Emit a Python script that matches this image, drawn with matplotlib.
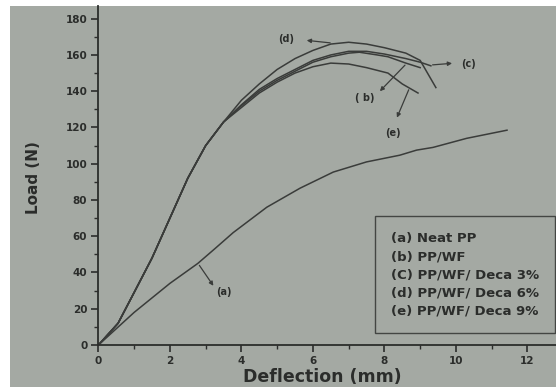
import matplotlib
matplotlib.use("Agg")
import matplotlib.pyplot as plt
from matplotlib.ticker import MultipleLocator
from matplotlib.patches import Rectangle

# Load-deflection curves
x_a = [0, 1.0, 2.0, 2.78, 3.25, 3.77, 4.71, 5.64, 6.57, 7.5, 8.43, 8.9, 9.36, 10.3, 11.43]
y_a = [0, 18, 34, 45, 53, 62, 76, 86.5, 95.4, 101, 104.7, 107.5, 109, 114, 118.5]

x_b = [0, 0.55, 1.0, 1.5, 2.0, 2.5, 3.0, 3.5, 4.0, 4.5, 5.0, 5.5, 6.0, 6.5, 7.0, 7.3, 7.8, 8.1, 8.6, 9.0]
y_b = [0, 12, 29, 48, 70, 92, 110, 123, 132, 140, 146, 151, 156, 159, 161, 161.5, 160, 159, 155.5, 153]

x_c = [0, 0.55, 1.0, 1.5, 2.0, 2.5, 3.0, 3.5, 4.0, 4.5, 5.0, 5.5, 6.0, 6.5, 7.0, 7.5, 8.0, 8.6, 9.0, 9.3]
y_c = [0, 12, 29, 48, 70, 92, 110, 123, 132.5, 141, 147, 152, 157, 160, 162, 162, 160.5, 158, 156, 154]

x_d = [0, 0.55, 1.0, 1.5, 2.0, 2.5, 3.0, 3.5, 4.0, 4.5, 5.0, 5.5, 6.0, 6.5, 7.0, 7.5, 8.0, 8.6, 9.0, 9.44]
y_d = [0, 12, 29, 48, 70, 92, 110, 123, 135, 144, 152, 158, 162.5, 166, 167, 166, 164, 161, 157, 142]

x_e = [0, 0.55, 1.0, 1.5, 2.0, 2.5, 3.0, 3.5, 4.0, 4.5, 5.0, 5.5, 6.0, 6.5, 7.0, 7.5, 8.1, 8.5, 8.94]
y_e = [0, 12, 29, 48, 70, 92, 110, 123, 131, 139, 145, 150, 153.5, 155.5, 155, 153, 150, 144, 139]

etiquetas = ["(a) Neat PP", "(b) PP/WF", "(C) PP/WF/ Deca 3%",
             "(d) PP/WF/ Deca 6%", "(e) PP/WF/ Deca 9%"]

fondo = "#a4a9a3"
tinta = "#2b2d2b"
linea = "#3a3c3a"

plt.rcParams["font.family"] = ["DejaVu Sans"]
plt.rcParams["font.weight"] = "bold"

fig = plt.figure(figsize=(5.56, 3.87), dpi=100, facecolor="white")
# la foto deja un borde blanco arriba y a la izquierda
fig.patches.append(Rectangle((10 / 556, 0), 1, 1 - 6 / 387, transform=fig.transFigure,
                             facecolor=fondo, edgecolor="none", zorder=-10))

ax = fig.add_axes([0.177, 0.1085, 0.823, 0.876])
ax.set_facecolor("none")

series = [(x_a, y_a), (x_b, y_b), (x_c, y_c), (x_d, y_d), (x_e, y_e)]
lineas = []
for (xs, ys), nombre in zip(series, etiquetas):
    l, = ax.plot(xs, ys, color=linea, lw=1.1, label=nombre)
    lineas.append(l)

ax.set_xlim(0, 12.8)
ax.set_ylim(0, 187)
ax.xaxis.set_major_locator(MultipleLocator(2))
ax.xaxis.set_minor_locator(MultipleLocator(1))
ax.yaxis.set_major_locator(MultipleLocator(20))
ax.yaxis.set_minor_locator(MultipleLocator(10))

for s in ["top", "right"]:
    ax.spines[s].set_visible(False)
for s in ["left", "bottom"]:
    ax.spines[s].set_color(tinta)
    ax.spines[s].set_linewidth(1.3)

ax.tick_params(which="major", length=5, width=1.2, color=tinta, labelsize=7.5, labelcolor=tinta)
ax.tick_params(axis="x", which="major", pad=3)
ax.tick_params(axis="y", which="major", pad=3)
ax.tick_params(which="minor", length=3, width=1.0, color=tinta)

ax.set_xlabel("Deflection (mm)", fontsize=12.5, fontweight="bold", color=tinta)
ax.set_ylabel("Load (N)", fontsize=11, fontweight="bold", color=tinta)
ax.xaxis.set_label_coords(0.489, -0.068)
ax.yaxis.set_label_coords(-0.126, 0.493)

# leyenda solo con texto
leg = ax.legend(handles=lineas, labels=etiquetas, loc="lower right",
                bbox_to_anchor=(0.998, 0.035), handlelength=0, handletextpad=0,
                prop={"size": 9.5, "weight": "bold"}, frameon=True, fancybox=False,
                borderpad=1.2, labelspacing=0.38, borderaxespad=0)
for h in leg.legend_handles:
    h.set_visible(False)
leg.get_frame().set_facecolor("none")
leg.get_frame().set_edgecolor(tinta)
leg.get_frame().set_linewidth(1.0)
for t in leg.get_texts():
    t.set_color(tinta)

# flechas hacia las letras de cada curva
flecha = dict(arrowstyle="-|>", color=linea, lw=0.9, mutation_scale=6)
ax.annotate("", xy=(5.75, 168.2), xytext=(6.56, 166.5), arrowprops=flecha)
ax.text(5.25, 169, "(d)", fontsize=7, ha="center", va="center", color=tinta)
ax.annotate("", xy=(9.97, 155.5), xytext=(9.27, 154.4), arrowprops=flecha)
ax.text(10.35, 155, "(c)", fontsize=7, ha="center", va="center", color=tinta)
ax.annotate("", xy=(7.82, 138.9), xytext=(8.63, 155.5), arrowprops=flecha)
ax.text(7.45, 136.5, "( b)", fontsize=7, ha="center", va="center", color=tinta)
ax.annotate("", xy=(8.32, 124), xytext=(8.71, 142.2), arrowprops=flecha)
ax.text(8.23, 117, "(e)", fontsize=7, ha="center", va="center", color=tinta)
ax.annotate("", xy=(3.26, 31.4), xytext=(2.78, 45.2), arrowprops=flecha)
ax.text(3.5, 29, "(a)", fontsize=7, ha="center", va="center", color=tinta)

fig.savefig("out.png", dpi=100, facecolor="white")
